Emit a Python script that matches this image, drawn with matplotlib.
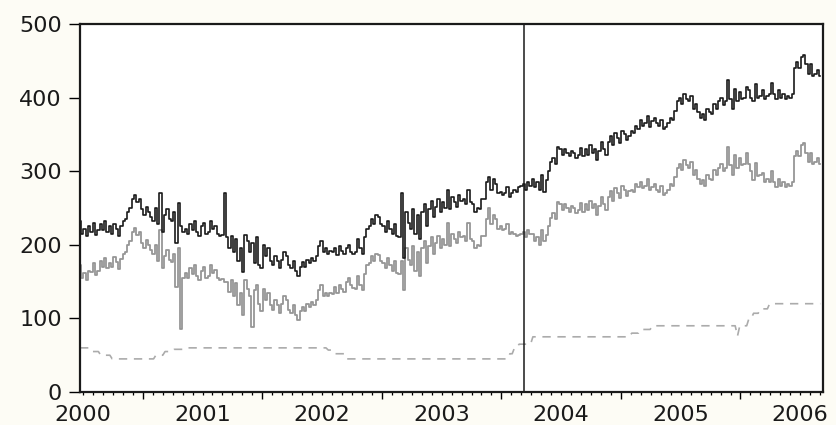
import numpy as np
import matplotlib
matplotlib.use("Agg")
import matplotlib.pyplot as plt
import matplotlib.transforms as mtransforms

# weekly values (first week ~ start of 2000)
black = [
    232, 215, 222, 212, 225, 218, 230, 214, 220, 228,
    220, 232, 218, 225, 215, 228, 222, 212, 226, 232,
    235, 245, 250, 262, 268, 258, 262, 248, 240, 252,
    245, 238, 232, 250, 228, 270, 218, 240, 248, 235,
    232, 245, 202, 257, 225, 218, 222, 215, 228, 220,
    232, 218, 212, 225, 230, 215, 218, 232, 222, 226,
    215, 212, 214, 270, 210, 196, 212, 190, 208, 178,
    195, 163, 213, 205, 190, 202, 175, 210, 172, 168,
    200, 185, 195, 178, 172, 185, 178, 168, 180, 190,
    185, 172, 168, 178, 165, 158, 170, 176, 170, 180,
    175, 182, 178, 185, 198, 205, 190, 195, 188, 192,
    190, 195, 186, 198, 192, 188, 195, 200, 190, 187,
    190, 208, 195, 188, 210, 222, 225, 235, 228, 240,
    238, 228, 225, 218, 232, 222, 215, 228, 212, 210,
    270, 182, 245, 230, 222, 248, 215, 240, 208, 245,
    255, 225, 248, 260, 238, 252, 262, 245, 258, 250,
    275, 248, 265, 258, 252, 268, 260, 262, 255, 275,
    258, 255, 245, 250, 248, 262, 262, 285, 292, 275,
    290, 282, 270, 272, 268, 270, 278, 265, 270, 275,
    272, 278, 280, 282, 275, 285, 280, 290, 278, 285,
    275, 295, 272, 288, 300, 312, 318, 310, 333, 330,
    322, 330, 325, 320, 328, 325, 318, 322, 332, 320,
    330, 322, 335, 325, 330, 315, 328, 340, 330, 322,
    340, 348, 335, 352, 345, 338, 355, 350, 342, 348,
    355, 352, 362, 358, 370, 362, 365, 375, 360, 368,
    372, 365, 362, 370, 358, 360, 365, 372, 370, 382,
    395, 400, 392, 405, 398, 395, 402, 385, 392, 380,
    372, 378, 370, 385, 380, 378, 392, 385, 395, 400,
    390, 395, 424, 398, 385, 412, 395, 408, 398, 400,
    415, 410, 400, 395, 418, 400, 402, 410, 398, 402,
    405, 420, 405, 398, 410, 400, 405, 398, 402, 400,
    405, 440, 448, 440, 455, 458, 445, 432, 445, 430,
    432, 438, 430,
]

gray = [
    172, 155, 162, 152, 165, 163, 175, 159, 165, 178,
    170, 182, 168, 175, 170, 183, 177, 167, 181, 187,
    190, 200, 205, 217, 223, 213, 217, 203, 195, 207,
    200, 193, 187, 200, 178, 220, 168, 185, 193, 180,
    177, 187, 143, 195, 85, 155, 162, 155, 168, 160,
    172, 158, 152, 165, 170, 155, 158, 172, 162, 166,
    155, 152, 154, 150, 150, 136, 152, 130, 148, 118,
    135, 104, 152, 140, 130, 88, 138, 145, 120, 110,
    140, 125, 135, 118, 112, 125, 118, 108, 120, 130,
    125, 112, 108, 118, 105, 98, 110, 116, 110, 120,
    115, 122, 118, 125, 138, 145, 130, 135, 131, 135,
    133, 143, 134, 146, 140, 136, 150, 155, 145, 142,
    140, 158, 145, 138, 160, 172, 175, 185, 178, 188,
    186, 178, 175, 168, 182, 172, 165, 178, 162, 160,
    178, 138, 195, 180, 172, 198, 165, 190, 158, 195,
    205, 175, 198, 210, 188, 202, 212, 195, 208, 200,
    230, 198, 215, 208, 202, 218, 210, 212, 205, 230,
    208, 205, 195, 200, 198, 212, 212, 235, 250, 228,
    240, 235, 222, 225, 220, 222, 228, 215, 218, 215,
    212, 213, 215, 217, 210, 220, 215, 215, 205, 210,
    200, 220, 205, 213, 225, 237, 243, 235, 258, 255,
    247, 255, 250, 245, 253, 250, 243, 247, 257, 245,
    255, 247, 260, 250, 255, 240, 253, 265, 255, 247,
    265, 273, 260, 277, 270, 263, 280, 275, 267, 273,
    275, 272, 282, 278, 285, 277, 280, 290, 275, 278,
    282, 275, 272, 280, 268, 270, 275, 282, 280, 292,
    305, 310, 302, 315, 308, 305, 312, 295, 302, 290,
    282, 288, 280, 295, 290, 288, 302, 295, 305, 310,
    300, 305, 333, 308, 295, 322, 305, 318, 308, 310,
    325, 310, 300, 288, 311, 293, 295, 297, 285, 289,
    285, 300, 285, 278, 290, 280, 285, 278, 282, 280,
    285, 320, 328, 320, 335, 338, 325, 312, 325, 310,
    312, 318, 310,
]

# dashed series: level and how many weeks it holds
dashed_levels = [60, 55, 50, 45, 50, 55, 58, 60, 57, 52, 45, 52,
                 60, 65, 75, 80, 85, 90, 76, 90, 100, 107, 113, 120]
dashed_weeks = [5, 4, 5, 19, 4, 4, 5, 62, 3, 5, 71, 2,
                2, 6, 43, 4, 5, 37, 1, 4, 2, 3, 4, 23]
dashed = np.repeat(dashed_levels, dashed_weeks)

years = [2000, 2001, 2002, 2003, 2004, 2005, 2006]
yticks = [0, 100, 200, 300, 400, 500]
break_date = 2003.69

start = 1999.975
t_black = start + np.arange(len(black)) / 52
t_gray = start + np.arange(len(gray)) / 52
t_dash = start + np.arange(len(dashed)) / 52

plt.rcParams["font.family"] = ["DejaVu Sans"]

fig = plt.figure(figsize=(8.36, 4.25), dpi=100, facecolor="#fdfcf5")
ax = fig.add_axes([0.0957, 0.0776, 0.8887, 0.8659])
ax.set_facecolor("white")

ax.plot(t_dash, dashed, color="#ababab", lw=1.2, dashes=(5, 4))
ax.plot(t_gray, gray, color="#969696", lw=1.3, drawstyle="steps-mid")
ax.plot(t_black, black, color="#1a1a1a", lw=1.2, drawstyle="steps-mid")
ax.axvline(break_date, color="#1a1a1a", lw=1.1)

ax.set_yticks(yticks)
ax.set_yticklabels([str(v) for v in yticks], fontsize=16, color="#1a1a1a")
ax.tick_params(axis="y", direction="out", length=8, width=1.0, pad=5)

# year boundaries (long ticks) fall mid-way between the year labels
ax.set_xticks([y + 0.5 for y in years[:-1]])
ax.set_xticklabels([])
months = np.arange(2000 * 12, 2006 * 12 + 3) / 12
ax.set_xticks(months, minor=True)
ax.tick_params(axis="x", which="major", direction="out", length=5, width=1.0)
ax.tick_params(axis="x", which="minor", direction="out", length=2.5, width=0.9)

ax.set_xlim(1999.975, 2006.19)
ax.set_ylim(0, 500)

trans = mtransforms.blended_transform_factory(ax.transData, ax.transAxes)
for y in years:
    ax.text(y, -0.063, str(y), transform=trans, ha="center", va="center",
            fontsize=16, color="#1a1a1a")

for side in ["left", "bottom", "top", "right"]:
    ax.spines[side].set_linewidth(1.6)
    ax.spines[side].set_color("#1a1a1a")

fig.savefig("out.png", dpi=100, facecolor=fig.get_facecolor())
